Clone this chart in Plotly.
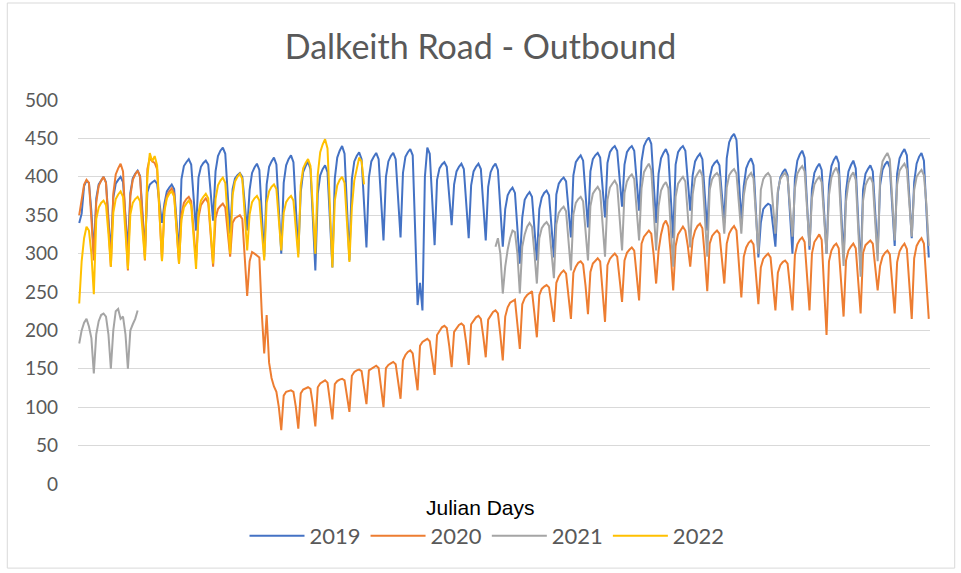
import plotly.graph_objects as go

N_DAYS = 350
days = list(range(1, N_DAYS + 1))

# Daily outbound counts, one row per week (Mon .. Sun)
counts_2019 = [
    [340, 352, 388, 395, 392, 355, 300],
    [372, 390, 396, 400, 393, 350, 300],
    [373, 391, 396, 400, 393, 352, 305],
    [379, 398, 404, 408, 401, 356, 305],
    [380, 390, 393, 395, 391, 368, 340],
    [365, 381, 386, 390, 384, 345, 300],
    [397, 414, 419, 423, 416, 376, 330],
    [399, 413, 418, 421, 416, 382, 343],
    [407, 427, 434, 438, 430, 382, 326],
    [384, 398, 402, 405, 400, 367, 330],
    [383, 405, 412, 417, 409, 356, 296],
    [390, 413, 420, 425, 416, 362, 300],
    [392, 415, 423, 428, 419, 364, 300],
    [380, 406, 414, 420, 410, 349, 278],
    [378, 402, 410, 415, 406, 348, 282],
    [398, 425, 434, 440, 430, 365, 291],
    [397, 420, 427, 432, 423, 370, 308],
    [399, 420, 426, 431, 423, 374, 317],
    [400, 420, 427, 431, 423, 376, 321],
    [405, 426, 432, 436, 428, 330, 233],
    [262, 226, 400, 438, 430, 375, 311],
    [396, 411, 416, 419, 413, 378, 337],
    [390, 407, 413, 417, 410, 368, 320],
    [389, 407, 413, 417, 410, 367, 317],
    [387, 406, 413, 417, 409, 363, 309],
    [358, 376, 382, 386, 379, 336, 287],
    [347, 370, 376, 380, 374, 335, 291],
    [358, 373, 379, 382, 376, 338, 295],
    [377, 391, 396, 399, 394, 360, 321],
    [402, 419, 424, 428, 421, 381, 334],
    [407, 423, 428, 431, 425, 389, 347],
    [418, 432, 437, 440, 434, 400, 361],
    [416, 432, 437, 440, 434, 398, 356],
    [420, 440, 447, 451, 443, 395, 340],
    [404, 424, 431, 436, 428, 378, 320],
    [416, 432, 437, 440, 434, 398, 356],
    [402, 420, 426, 430, 423, 380, 330],
    [398, 413, 418, 421, 415, 380, 340],
    [424, 445, 452, 456, 448, 399, 343],
    [388, 411, 419, 424, 415, 359, 295],
    [340, 358, 362, 365, 363, 337, 309],
    [379, 399, 406, 410, 402, 355, 300],
    [398, 421, 429, 434, 425, 369, 305],
    [384, 405, 412, 417, 409, 358, 300],
    [390, 414, 422, 427, 418, 361, 295],
    [381, 407, 415, 421, 411, 350, 279],
    [383, 404, 410, 415, 407, 357, 300],
    [389, 409, 416, 420, 412, 365, 310],
    [404, 424, 431, 436, 428, 378, 320],
    [393, 417, 426, 431, 421, 363, 295],
]

counts_2020 = [
    [350, 372, 390, 396, 392, 345, 291],
    [367, 388, 395, 400, 392, 341, 283],
    [378, 403, 411, 417, 407, 347, 278],
    [375, 396, 403, 408, 400, 349, 291],
    [410, 425, 420, 418, 410, 358, 291],
    [358, 375, 381, 385, 378, 336, 287],
    [351, 366, 371, 374, 368, 332, 291],
    [347, 363, 368, 372, 366, 327, 283],
    [346, 358, 362, 365, 360, 330, 296],
    [340, 346, 348, 350, 345, 300, 245],
    [290, 302, 300, 297, 295, 222, 170],
    [220, 158, 138, 127, 120, 100, 70],
    [115, 120, 121, 122, 120, 100, 72],
    [118, 123, 125, 126, 124, 103, 75],
    [126, 131, 133, 135, 132, 110, 84],
    [130, 134, 136, 137, 135, 116, 94],
    [141, 146, 148, 149, 147, 126, 104],
    [148, 150, 152, 154, 151, 128, 100],
    [151, 155, 157, 159, 156, 136, 111],
    [161, 168, 172, 174, 170, 148, 122],
    [180, 185, 187, 189, 186, 166, 142],
    [194, 200, 204, 206, 203, 180, 152],
    [198, 203, 207, 209, 206, 183, 155],
    [208, 213, 217, 219, 215, 192, 165],
    [214, 220, 224, 226, 222, 194, 161],
    [218, 230, 236, 238, 240, 208, 176],
    [234, 242, 246, 249, 251, 222, 191],
    [246, 254, 257, 259, 256, 236, 211],
    [262, 270, 275, 278, 274, 248, 215],
    [275, 283, 288, 290, 286, 258, 221],
    [276, 287, 291, 294, 290, 254, 211],
    [285, 293, 297, 300, 296, 270, 237],
    [291, 301, 305, 308, 304, 275, 239],
    [313, 322, 326, 330, 326, 298, 261],
    [304, 325, 338, 343, 335, 300, 252],
    [310, 325, 330, 335, 330, 310, 283],
    [318, 330, 336, 339, 333, 296, 251],
    [313, 323, 327, 330, 326, 297, 261],
    [313, 326, 332, 336, 330, 290, 243],
    [296, 308, 314, 317, 312, 276, 234],
    [282, 293, 297, 300, 295, 263, 226],
    [275, 285, 289, 291, 287, 258, 226],
    [298, 312, 318, 321, 315, 274, 226],
    [300, 315, 320, 325, 318, 262, 194],
    [290, 304, 310, 313, 307, 266, 218],
    [291, 304, 309, 313, 307, 268, 222],
    [301, 311, 314, 317, 313, 285, 252],
    [284, 296, 301, 304, 299, 263, 222],
    [289, 303, 309, 313, 306, 264, 215],
    [294, 310, 316, 320, 313, 268, 215],
]

# 2021: counter offline between late January and late June
counts_2021_early = [
    183, 200, 210, 215, 205, 190, 144,
    195, 212, 220, 222, 218, 195, 150,
    200, 225, 228, 215, 218, 195, 150,
    200, 208, 215, 226,
]
gap_2021 = [None] * 146
counts_2021_restart = [309, 320, 300, 248]
counts_2021_late = [
    [283, 305, 320, 330, 328, 300, 248],
    [309, 325, 335, 340, 335, 301, 261],
    [320, 333, 338, 341, 336, 305, 268],
    [338, 353, 358, 361, 355, 320, 278],
    [351, 366, 371, 374, 368, 333, 291],
    [362, 378, 383, 387, 381, 342, 296],
    [370, 386, 391, 395, 389, 350, 304],
    [379, 394, 400, 403, 397, 360, 317],
    [385, 406, 412, 417, 409, 360, 304],
    [362, 382, 389, 393, 385, 338, 283],
    [374, 391, 396, 400, 394, 354, 308],
    [377, 398, 404, 409, 401, 352, 296],
    [383, 397, 402, 405, 400, 365, 326],
    [386, 402, 407, 410, 404, 368, 326],
    [376, 395, 401, 405, 398, 352, 300],
    [383, 397, 402, 405, 400, 365, 326],
    [382, 397, 402, 405, 399, 363, 322],
    [385, 404, 410, 414, 407, 362, 310],
    [372, 390, 396, 400, 393, 350, 300],
    [376, 399, 407, 412, 403, 348, 284],
    [368, 392, 401, 406, 396, 338, 270],
    [369, 389, 396, 400, 392, 345, 290],
    [399, 420, 426, 431, 423, 374, 317],
    [390, 408, 413, 417, 410, 370, 322],
    [383, 400, 405, 409, 402, 365, 310],
]

# 2022: data to date
counts_2022 = [
    [235, 290, 320, 335, 330, 300, 247],
    [345, 360, 366, 369, 363, 326, 283],
    [353, 371, 377, 381, 374, 330, 280],
    [351, 366, 371, 374, 368, 333, 292],
    [400, 431, 420, 427, 415, 360, 290],
    [355, 372, 378, 381, 374, 334, 287],
    [344, 360, 365, 369, 363, 325, 280],
    [353, 369, 374, 378, 372, 332, 287],
    [371, 389, 395, 399, 392, 350, 300],
    [376, 394, 400, 404, 397, 354, 304],
    [351, 367, 372, 375, 369, 333, 291],
    [366, 381, 387, 390, 384, 347, 304],
    [353, 367, 372, 375, 369, 335, 295],
    [389, 411, 418, 423, 414, 361, 300],
    [403, 432, 442, 449, 437, 365, 282],
    [369, 389, 396, 400, 392, 345, 289],
    [360, 395, 410, 425, 420, 390],
]

Y_TICKS = [0, 50, 100, 150, 200, 250, 300, 350, 400, 450, 500]


def flatten(weeks):
    return [v for week in weeks for v in week]


series = [
    ("2019", flatten(counts_2019), "#4472C4"),
    ("2020", flatten(counts_2020), "#ED7D31"),
    ("2021", counts_2021_early + gap_2021 + counts_2021_restart + flatten(counts_2021_late), "#A5A5A5"),
    ("2022", flatten(counts_2022), "#FFC000"),
]

fig = go.Figure()
for name, values, colour in series:
    fig.add_trace(go.Scatter(
        x=days[:len(values)], y=values, name=name, mode="lines",
        line=dict(color=colour, width=2), connectgaps=False,
    ))

TEXT_GREY = "#595959"
PLOT_L, PLOT_W = 78, 852
chart_centre = (480 - PLOT_L) / PLOT_W

fig.update_layout(
    width=961, height=573,
    margin=dict(l=78, r=31, t=100, b=89),
    paper_bgcolor="white", plot_bgcolor="white",
    title=dict(text="Dalkeith Road - Outbound", x=0.5, xanchor="center",
               y=1 - 47 / 573, yanchor="middle",
               font=dict(family="Lato", size=34, color=TEXT_GREY)),
    showlegend=True,
    legend=dict(orientation="h", x=(487 - PLOT_L) / PLOT_W, xanchor="center",
                y=-0.135, yanchor="middle",
                font=dict(family="Lato", size=22, color=TEXT_GREY),
                itemwidth=55, traceorder="normal"),
    xaxis=dict(range=[0.5, N_DAYS + 0.5], showticklabels=False, showgrid=False,
               zeroline=False, showline=False, ticks=""),
    yaxis=dict(range=[0, 500], tickvals=Y_TICKS, showgrid=True, gridcolor="#D9D9D9",
               gridwidth=1, zeroline=False, showline=False, ticks="",
               ticklabelstandoff=19,
               tickfont=dict(family="Lato", size=19, color=TEXT_GREY)),
    annotations=[dict(text="Julian Days", x=chart_centre, xref="paper", y=-0.06, yref="paper",
                      xanchor="center", yanchor="middle", showarrow=False,
                      font=dict(family="Liberation Sans", size=21, color="black"))],
    shapes=[dict(type="rect", xref="paper", yref="paper", x0=-0.083, x1=1.029,
                 y0=-0.219, y1=1.2526, line=dict(color="#D9D9D9", width=1))],
)

fig.write_html("out.html")
